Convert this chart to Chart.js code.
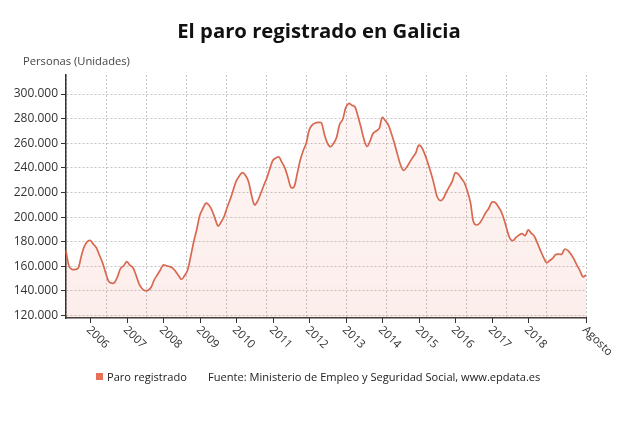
<!DOCTYPE html>
<html>
<head>
<meta charset="utf-8">
<script src="https://cdn.jsdelivr.net/npm/chart.js@4/dist/chart.umd.min.js"></script>
<style>
  html, body { margin: 0; padding: 0; background: #fff; }
  #wrap { width: 640px; height: 431px; position: relative; }
</style>
</head>
<body>
<div id="wrap"><canvas id="chart"></canvas></div>
<script>
// paro registrado mensual, mayo 2005 - agosto 2019
const startYear = 2005
const startMonth = 5
const paro = [
  172800, 160000, 157500, 157500, 158500, 168000, 176000, 180000,
  181000, 178000, 175000, 169000, 163000, 155000, 148000, 146300, 147000, 152000, 158500, 160500,
  163800, 161000, 159000, 153000, 146000, 142000, 140300, 140500, 143000, 149000, 153000, 157000,
  161200, 160500, 159800, 158800, 156000, 152500, 149500, 152500, 157000, 168000, 180000, 190000,
  201500, 207000, 211300, 209800, 205500, 199000, 192800, 196000, 200500, 208000, 214500, 222000,
  229500, 233500, 236100, 234000, 229000, 218000, 210000, 213000, 219000, 225500, 231500, 239000,
  246000, 248000, 249000, 244500, 239800, 232000, 224000, 224500, 235000, 246000, 254000, 260000,
  271000, 275000, 276500, 277000, 276500, 267000, 260000, 257200, 260000, 265000, 275500, 279500,
  289000, 292400, 291000, 289700, 282000, 273000, 263000, 257400, 262000, 268100, 270000, 272000,
  281000, 278500, 275000, 268000, 260000, 251000, 242500, 238000, 240500, 244500, 248500, 252000,
  258500, 256500, 251000, 244000, 236000, 227000, 217000, 213500, 215000, 220000, 224500, 229000,
  236000, 235000, 231500, 228000, 221000, 212000, 196000, 193600, 195000, 199000, 203500, 207000,
  212000, 212000, 209000, 205000, 198500, 190000, 182500, 181000, 183500, 185500, 186500, 185000,
  189600, 187000, 184500, 179000, 173000, 167500, 163000, 164500, 166500, 169500, 170000, 169800,
  174000, 173000, 170000, 166000, 161000, 156500, 151500, 153000
]
const yTicks = [120000, 140000, 160000, 180000, 200000, 220000, 240000, 260000, 280000, 300000]
const xTickLabels = ['2006', '2007', '2008', '2009', '2010', '2011', '2012', '2013', '2014', '2015', '2016', '2017', '2018', 'Agosto']
const xTickIndex = [8, 20, 32, 44, 56, 68, 80, 92, 104, 116, 128, 140, 152, 171]

const months = paro.map((v, i) => {
  const m = startMonth - 1 + i
  return (startYear + Math.floor(m / 12)) + '-' + String(m % 12 + 1).padStart(2, '0')
})

const FONT = '"Open Sans", "Noto Sans", sans-serif'
const LINE = '#d8684f'
const GRID = '#c4c4c4'

const textPlugin = {
  id: 'texts',
  afterDraw (chart) {
    const ctx = chart.ctx
    const x = chart.scales.x
    const bottom = chart.chartArea.bottom
    ctx.save()
    // titulo
    ctx.fillStyle = '#111'
    ctx.font = 'bold 20.3px ' + FONT
    ctx.textAlign = 'center'
    ctx.textBaseline = 'alphabetic'
    ctx.fillText('El paro registrado en Galicia', 319, 38)
    // unidades
    ctx.fillStyle = '#444'
    ctx.font = '11.2px ' + FONT
    ctx.textAlign = 'left'
    ctx.fillText('Personas (Unidades)', 23, 65)
    // ticks del eje x
    ctx.strokeStyle = '#333'
    ctx.lineWidth = 1
    ctx.fillStyle = '#333'
    ctx.font = '11.5px ' + FONT
    xTickIndex.forEach((idx, k) => {
      const px = Math.round(x.getPixelForValue(idx)) + 0.5
      ctx.beginPath()
      ctx.moveTo(px, bottom)
      ctx.lineTo(px, bottom + 5)
      ctx.stroke()
      ctx.save()
      ctx.translate(px + 2, bottom + 6)
      ctx.rotate(Math.PI / 4)
      ctx.textAlign = 'left'
      ctx.textBaseline = 'top'
      ctx.fillText(xTickLabels[k], 0, 0)
      ctx.restore()
    })
    // leyenda
    ctx.fillStyle = '#e8705a'
    ctx.fillRect(96, 373, 7, 7)
    ctx.fillStyle = '#222'
    ctx.font = '11.1px ' + FONT
    ctx.textBaseline = 'alphabetic'
    ctx.fillText('Paro registrado', 107, 381)
    ctx.fillText('Fuente: Ministerio de Empleo y Seguridad Social, www.epdata.es', 208, 381)
    ctx.restore()
  }
}

const ctx = document.getElementById('chart').getContext('2d')
const grad = ctx.createLinearGradient(0, 75, 0, 318)
grad.addColorStop(0, 'rgba(232, 120, 100, 0.06)')
grad.addColorStop(1, 'rgba(232, 120, 100, 0.13)')

new Chart(ctx, {
  type: 'line',
  data: {
    labels: months,
    datasets: [{
      label: 'Paro registrado',
      data: paro,
      borderColor: LINE,
      borderWidth: 1.7,
      backgroundColor: grad,
      fill: 'start',
      pointRadius: 0,
      tension: 0.35
    }]
  },
  options: {
    responsive: true,
    maintainAspectRatio: false,
    animation: false,
    layout: {
      padding: { left: 0, top: 75, right: 54, bottom: 113 }
    },
    plugins: {
      legend: { display: false },
      title: { display: false },
      tooltip: { enabled: false }
    },
    scales: {
      x: {
        type: 'category',
        offset: false,
        grid: { display: false },
        border: { display: true, color: '#333', width: 1.5 },
        ticks: { display: false },
        afterFit: (s) => { s.height = 0 }
      },
      xg: {
        // rejilla vertical decorativa, cada 40px
        type: 'linear',
        position: 'bottom',
        min: 0,
        max: 13,
        ticks: { display: false, stepSize: 1 },
        border: { display: false, dash: [2, 2] },
        grid: { color: GRID, drawTicks: false, lineWidth: 1 },
        afterFit: (s) => { s.height = 0 }
      },
      y: {
        min: 118000,
        max: 315500,
        afterBuildTicks: (s) => { s.ticks = yTicks.map(v => ({ value: v })) },
        ticks: {
          color: '#333',
          font: { family: FONT, size: 12 },
          padding: 3,
          callback: (v) => v.toLocaleString('de-DE')
        },
        border: { display: true, color: '#333', width: 1.5, dash: [2, 2] },
        grid: { color: GRID, tickColor: '#333', tickLength: 5, lineWidth: 1 },
        afterFit: (s) => { s.width = 66 }
      }
    }
  },
  plugins: [textPlugin]
})
</script>
</body>
</html>
